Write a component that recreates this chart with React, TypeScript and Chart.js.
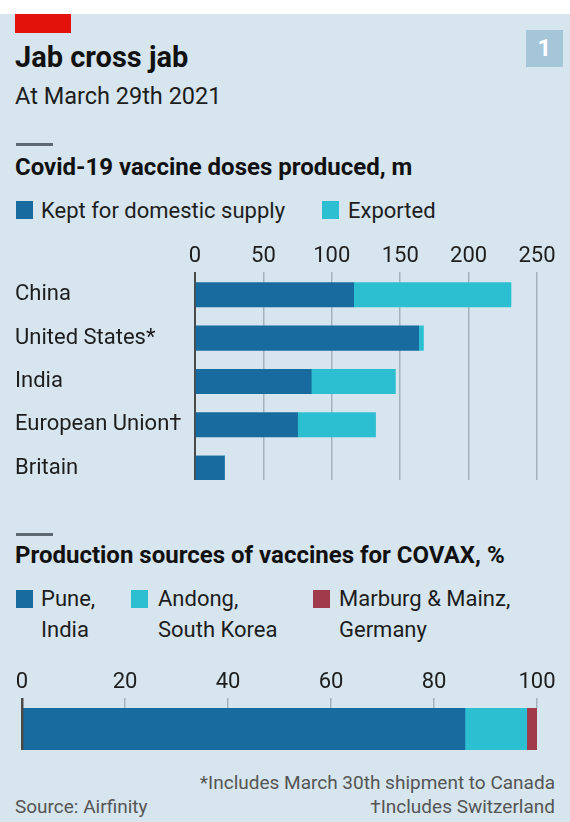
import React, { useEffect, useRef } from 'react';
import { Chart, registerables } from 'chart.js';

Chart.register(...registerables);

// ---------- data ----------
const countries = ['China', 'United States*', 'India', 'European Union†', 'Britain'];
const keptDomestic = [116, 163.5, 85, 75, 21.5];
const exported = [115, 3.5, 61.5, 57, 0];
const dosesTicks = [0, 50, 100, 150, 200, 250];

const covaxSources = ['Pune, India', 'Andong, South Korea', 'Marburg & Mainz, Germany'];
const covaxShares = [86, 12, 2];
const covaxTicks = [0, 20, 40, 60, 80, 100];

// ---------- styles ----------
const BG = '#d6e5ee';
const DARK_BLUE = '#176b9e';
const CYAN = '#2cbfd1';
const RED = '#a13a4b';
const GRID = '#a3b3bd';
const ZERO = '#4a4a4a';
const TEXT = '#1d1d1d';
const FONT = 'Roboto, "Noto Sans", sans-serif';

type TProps = {
  x?: number;
  right?: number;
  baseline: number;
  size: number;
  weight?: number;
  color?: string;
  children: React.ReactNode;
};

function T({ x, right, baseline, size, weight = 400, color = TEXT, children }: TProps) {
  const style: React.CSSProperties = {
    position: 'absolute',
    top: baseline - 0.842 * size,
    fontFamily: FONT,
    fontSize: size,
    fontWeight: weight,
    lineHeight: `${size}px`,
    color,
    whiteSpace: 'nowrap',
  };
  if (right !== undefined) {
    style.right = right;
    style.textAlign = 'right';
  } else {
    style.left = x;
  }
  return <div style={style}>{children}</div>;
}

function Swatch({ x, y, color }: { x: number; y: number; color: string }) {
  return (
    <div
      style={{ position: 'absolute', left: x, top: y, width: 17, height: 18, background: color }}
    />
  );
}

function DosesChart() {
  const ref = useRef<HTMLCanvasElement>(null);
  useEffect(() => {
    if (!ref.current) return;
    const chart = new Chart(ref.current, {
      type: 'bar',
      data: {
        datasets: [
          {
            label: 'Kept for domestic supply',
            data: countries.map((_, i) => ({ x: keptDomestic[i], y: i })),
            backgroundColor: DARK_BLUE,
            barThickness: 24.5,
            borderWidth: 0,
          },
          {
            label: 'Exported',
            data: countries.map((_, i) => ({ x: exported[i], y: i })),
            backgroundColor: CYAN,
            barThickness: 24.5,
            borderWidth: 0,
          },
        ],
      },
      options: {
        indexAxis: 'y',
        animation: false,
        responsive: false,
        layout: { padding: { left: 15, right: 33, top: 11.6, bottom: 20 } },
        plugins: { legend: { display: false }, tooltip: { enabled: false } },
        scales: {
          x: {
            type: 'linear',
            position: 'top',
            min: 0,
            max: 250,
            stacked: true,
            afterBuildTicks: (s: any) => {
              s.ticks = dosesTicks.map((v) => ({ value: v }));
            },
            ticks: { font: { family: FONT, size: 22 }, color: TEXT, padding: 2, autoSkip: false },
            grid: {
              drawTicks: false,
              color: (c: any) => (c.tick && c.tick.value === 0 ? ZERO : GRID),
              lineWidth: (c: any) => (c.tick && c.tick.value === 0 ? 2 : 1.5),
            },
            border: { display: false },
          },
          y: {
            type: 'linear',
            reverse: true,
            offset: false,
            min: -0.526,
            max: 4.274,
            stacked: true,
            afterBuildTicks: (s: any) => {
              s.ticks = countries.map((_, i) => ({ value: i }));
            },
            afterFit: (s: any) => {
              s.width = 180;
            },
            ticks: {
              crossAlign: 'far',
              autoSkip: false,
              padding: 0,
              font: { family: FONT, size: 22 },
              color: TEXT,
              callback: (v: any) => countries[v as number] ?? '',
            },
            grid: { display: false },
            border: { display: false },
          },
        },
      },
    } as any);
    return () => chart.destroy();
  }, []);
  return (
    <canvas
      ref={ref}
      width={570}
      height={270}
      style={{ position: 'absolute', left: 0, top: 230, width: 570, height: 270 }}
    />
  );
}

function CovaxChart() {
  const ref = useRef<HTMLCanvasElement>(null);
  useEffect(() => {
    if (!ref.current) return;
    const colors = [DARK_BLUE, CYAN, RED];
    const chart = new Chart(ref.current, {
      type: 'bar',
      data: {
        labels: [''],
        datasets: covaxSources.map((s, i) => ({
          label: s,
          data: [covaxShares[i]],
          backgroundColor: colors[i],
          barPercentage: 1,
          categoryPercentage: 1,
          borderWidth: 0,
        })),
      },
      options: {
        indexAxis: 'y',
        animation: false,
        responsive: false,
        layout: { padding: { left: 22, right: 33, top: 17.6, bottom: 10 } },
        plugins: { legend: { display: false }, tooltip: { enabled: false } },
        scales: {
          x: {
            type: 'linear',
            position: 'top',
            min: 0,
            max: 100,
            stacked: true,
            afterBuildTicks: (s: any) => {
              s.ticks = covaxTicks.map((v) => ({ value: v }));
            },
            ticks: { font: { family: FONT, size: 22 }, color: TEXT, padding: 2, autoSkip: false },
            grid: {
              z: 1,
              drawTicks: true,
              tickLength: 10,
              color: (c: any) => (c.tick && c.tick.value === 0 ? ZERO : 'rgba(0,0,0,0)'),
              tickColor: (c: any) => (c.tick && c.tick.value === 0 ? ZERO : GRID),
              lineWidth: (c: any) => (c.tick && c.tick.value === 0 ? 2.5 : 1.5),
            },
            border: { display: false },
          },
          y: { stacked: true, display: false },
        },
      },
    } as any);
    return () => chart.destroy();
  }, []);
  return (
    <canvas
      ref={ref}
      width={570}
      height={110}
      style={{ position: 'absolute', left: 0, top: 650, width: 570, height: 110 }}
    />
  );
}

export default function App() {
  return (
    <div
      style={{
        position: 'absolute',
        left: 0,
        top: 0,
        width: 570,
        height: 822,
        background: '#ffffff',
        overflow: 'hidden',
      }}
    >
      <div style={{ position: 'absolute', left: 0, top: 14, width: 570, height: 808, background: BG }} />
      {/* red tag */}
      <div style={{ position: 'absolute', left: 15, top: 14, width: 56, height: 19, background: '#e3120b' }} />
      {/* number box */}
      <div
        style={{
          position: 'absolute',
          left: 526,
          top: 30,
          width: 37,
          height: 37,
          background: '#a5c6d9',
          color: '#ffffff',
          fontFamily: FONT,
          fontWeight: 700,
          fontSize: 24,
          lineHeight: '37px',
          textAlign: 'center',
        }}
      >
        1
      </div>

      <T x={15} baseline={67} size={29} weight={700} color="#111">
        Jab cross jab
      </T>
      <T x={15} baseline={105} size={23.5}>
        At March 29th 2021
      </T>

      {/* section 1 */}
      <div style={{ position: 'absolute', left: 16, top: 143, width: 37, height: 3, background: '#5d6870' }} />
      <T x={15} baseline={175} size={24} weight={700} color="#111">
        Covid-19 vaccine doses produced, m
      </T>
      <Swatch x={16} y={201} color={DARK_BLUE} />
      <T x={41} baseline={219} size={22}>
        Kept for domestic supply
      </T>
      <Swatch x={322} y={201} color={CYAN} />
      <T x={348} baseline={219} size={22}>
        Exported
      </T>
      <DosesChart />

      {/* section 2 */}
      <div style={{ position: 'absolute', left: 16, top: 533, width: 37, height: 3, background: '#5d6870' }} />
      <T x={15} baseline={563} size={24} weight={700} color="#111">
        Production sources of vaccines for COVAX, %
      </T>
      <Swatch x={16} y={590} color={DARK_BLUE} />
      <T x={41} baseline={607} size={22}>
        Pune,
      </T>
      <T x={41} baseline={638} size={22}>
        India
      </T>
      <Swatch x={131} y={590} color={CYAN} />
      <T x={158} baseline={607} size={22}>
        Andong,
      </T>
      <T x={158} baseline={638} size={22}>
        South Korea
      </T>
      <Swatch x={313} y={590} color={RED} />
      <T x={339} baseline={607} size={22}>
        Marburg &amp; Mainz,
      </T>
      <T x={339} baseline={638} size={22}>
        Germany
      </T>
      <CovaxChart />

      {/* footer */}
      <T right={15} baseline={789} size={19} color="#555">
        *Includes March 30th shipment to Canada
      </T>
      <T right={15} baseline={813} size={19} color="#555">
        †Includes Switzerland
      </T>
      <T x={15} baseline={813} size={19} color="#555">
        Source: Airfinity
      </T>
    </div>
  );
}
